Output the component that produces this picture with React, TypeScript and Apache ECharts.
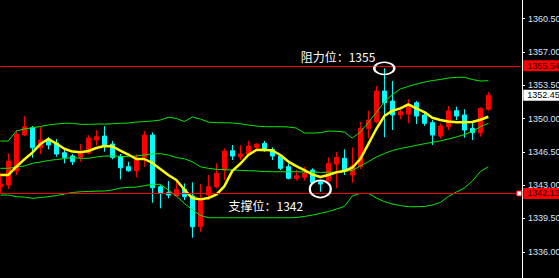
import React, { useEffect, useRef } from 'react';
import * as echarts from 'echarts';

// ---- candle data (open / close / low / high) ----
const opens = [
  1342.80, 1343.01, 1344.49, 1348.27, 1349.03, 1346.93, 1347.85, 1347.43, 1346.41, 1346.06,
  1345.92, 1346.38, 1347.74, 1348.16, 1347.32, 1345.99, 1344.94, 1344.52, 1345.92, 1348.27,
  1342.84, 1342.21, 1341.86, 1342.59, 1341.86, 1338.63, 1341.96, 1342.84, 1344.59, 1346.62,
  1345.99, 1346.27, 1346.97, 1347.39, 1346.76, 1346.06, 1344.94, 1343.72, 1343.82, 1344.59,
  1343.36, 1343.47, 1345.22, 1345.82, 1344.07, 1344.94, 1348.97, 1349.66, 1352.89, 1351.84,
  1350.37, 1350.47, 1351.66, 1350.37, 1349.56, 1348.16, 1349.14, 1350.82, 1350.37, 1348.97,
  1348.51, 1350.97,
];
const closes = [
  1343.12, 1345.54, 1348.37, 1349.14, 1346.93, 1347.74, 1347.22, 1346.27, 1345.92, 1345.46,
  1346.41, 1347.95, 1348.09, 1347.22, 1345.92, 1344.83, 1344.52, 1345.82, 1348.27, 1342.73,
  1342.21, 1341.96, 1342.56, 1341.79, 1338.63, 1341.62, 1342.84, 1344.24, 1346.59, 1346.06,
  1346.27, 1347.11, 1347.32, 1346.62, 1346.06, 1344.77, 1343.72, 1343.99, 1344.24, 1343.26,
  1343.12, 1345.29, 1345.92, 1344.59, 1345.01, 1348.97, 1349.84, 1352.89, 1351.66, 1350.37,
  1350.71, 1351.42, 1350.26, 1349.50, 1348.27, 1349.21, 1350.82, 1350.26, 1348.79, 1348.51,
  1351.07, 1352.45,
];
const lows = [
  1342.17, 1342.59, 1344.07, 1348.16, 1345.88, 1346.27, 1346.76, 1345.99, 1345.29, 1345.12,
  1345.46, 1346.24, 1347.18, 1346.51, 1345.71, 1343.61, 1344.41, 1343.82, 1344.94, 1341.16,
  1340.57, 1341.62, 1341.79, 1341.44, 1337.48, 1338.11, 1341.44, 1342.67, 1343.54, 1345.64,
  1345.64, 1346.17, 1346.69, 1346.51, 1345.64, 1344.59, 1343.61, 1343.47, 1343.47, 1343.12,
  1342.31, 1343.36, 1342.67, 1344.07, 1343.26, 1344.70, 1347.92, 1349.50, 1348.03, 1348.79,
  1349.92, 1349.50, 1349.42, 1349.24, 1347.22, 1347.92, 1348.79, 1349.84, 1347.98, 1347.74,
  1348.09, 1350.82,
];
const highs = [
  1344.28, 1346.34, 1348.79, 1350.26, 1349.21, 1349.14, 1348.06, 1347.85, 1346.90, 1346.27,
  1347.32, 1348.27, 1348.79, 1349.21, 1347.64, 1346.27, 1345.46, 1346.24, 1348.69, 1348.55,
  1343.01, 1343.43, 1343.47, 1343.19, 1343.30, 1343.12, 1344.07, 1345.29, 1346.87, 1347.22,
  1347.22, 1347.64, 1347.39, 1347.64, 1346.97, 1346.24, 1345.29, 1344.59, 1344.94, 1344.77,
  1343.47, 1345.92, 1346.51, 1346.76, 1346.97, 1349.63, 1350.82, 1353.41, 1355.27, 1353.94,
  1351.24, 1352.02, 1351.84, 1350.71, 1349.84, 1349.50, 1351.31, 1351.24, 1350.97, 1349.66,
  1351.18, 1352.78,
];

// ---- indicator lines ----
const maYellow = [
  1344.07, 1344.07, 1344.94, 1345.71, 1346.41, 1347.32, 1347.85, 1347.37, 1346.83, 1346.53,
  1346.45, 1346.59, 1346.90, 1347.11, 1347.08, 1346.64, 1346.22, 1345.75, 1345.75, 1345.33,
  1344.70, 1344.07, 1343.54, 1342.54, 1341.65, 1341.51, 1341.65, 1342.00, 1342.88, 1344.50,
  1345.25, 1346.17, 1346.69, 1346.72, 1346.64, 1346.17, 1345.48, 1345.01, 1344.59, 1344.14,
  1343.86, 1344.07, 1344.35, 1344.49, 1344.85, 1345.75, 1347.32, 1348.90, 1350.26, 1350.82,
  1351.07, 1351.49, 1351.07, 1350.68, 1350.08, 1349.84, 1349.68, 1349.60, 1349.60, 1349.63,
  1349.87, 1350.19,
];
const bandUpper = [
  1347.64, 1347.64, 1348.69, 1348.90, 1349.03, 1349.16, 1349.32, 1349.42, 1349.50, 1349.50,
  1349.39, 1349.39, 1349.42, 1349.42, 1349.45, 1349.50, 1349.53, 1349.63, 1349.68, 1349.74,
  1349.84, 1350.13, 1350.02, 1349.68, 1350.16, 1349.95, 1349.63, 1349.56, 1349.56, 1349.53,
  1349.45, 1349.32, 1349.21, 1349.14, 1349.14, 1349.14, 1349.11, 1349.00, 1348.48, 1348.48,
  1348.51, 1348.69, 1348.66, 1348.58, 1347.95, 1348.58, 1349.58, 1350.62, 1351.75, 1352.52,
  1353.10, 1353.38, 1353.62, 1353.83, 1353.99, 1354.10, 1354.25, 1354.33, 1354.33, 1354.10,
  1353.94, 1353.97,
];
const bandMiddle = [
  1344.77, 1344.77, 1344.91, 1345.01, 1345.29, 1345.43, 1345.59, 1345.69, 1345.80, 1345.90,
  1345.82, 1345.82, 1345.96, 1346.06, 1346.06, 1346.03, 1345.99, 1346.06, 1346.17, 1346.30,
  1346.30, 1346.17, 1345.90, 1345.78, 1345.46, 1344.94, 1344.77, 1344.66, 1344.62, 1344.59,
  1344.56, 1344.52, 1344.49, 1344.43, 1344.41, 1344.41, 1344.41, 1344.41, 1344.38, 1344.36,
  1344.35, 1344.35, 1344.38, 1344.45, 1344.56, 1345.01, 1345.46, 1345.96, 1346.32, 1346.64,
  1346.85, 1347.01, 1347.18, 1347.35, 1347.50, 1347.64, 1347.85, 1348.06, 1348.32, 1348.63,
  1349.14, 1349.50,
];
const bandLower = [
  1341.96, 1341.96, 1341.79, 1341.75, 1341.62, 1341.70, 1341.79, 1341.91, 1342.07, 1342.23,
  1342.31, 1342.33, 1342.38, 1342.38, 1342.49, 1342.70, 1342.77, 1342.80, 1342.94, 1343.09,
  1343.09, 1342.49, 1341.86, 1341.09, 1340.42, 1339.83, 1339.58, 1339.58, 1339.58, 1339.58,
  1339.58, 1339.58, 1339.58, 1339.58, 1339.58, 1339.58, 1339.58, 1339.60, 1339.71, 1339.86,
  1340.04, 1340.23, 1340.49, 1340.76, 1341.86, 1342.14, 1342.14, 1341.65, 1341.28, 1341.02,
  1340.86, 1340.74, 1340.74, 1340.76, 1340.91, 1341.18, 1341.81, 1342.28, 1342.70, 1343.43,
  1344.43, 1344.94,
];

// ---- axis / levels ----
const yTicks = [1336, 1339.5, 1343, 1346.5, 1350, 1353.5, 1357, 1360.5];
const Y_MIN = 1333.25;
const Y_MAX = 1362.45;
const SLOT_COUNT = 66;
const resistanceLevel = 1355.54;
const supportLevel = 1342.13;
const lastPrice = 1352.45;
const resistanceMark = { index: 48, value: 1355.27 };
const supportMark = { index: 40, value: 1342.6 };
const resistanceText = '阻力位：1355';
const supportText = '支撑位：1342';

export default function App() {
  const ref = useRef<HTMLDivElement>(null);

  useEffect(() => {
    document.body.style.margin = '0';
    const chart = echarts.init(ref.current!, null, { renderer: 'svg' });
    const cats = Array.from({ length: SLOT_COUNT }, (_, i) => String(i));
    const ohlc = opens.map((o, i) => [o, closes[i], lows[i], highs[i]]);
    const lastIdx = SLOT_COUNT - 1;
    const labelFont = { fontSize: 9, fontFamily: 'Liberation Sans, Arial, sans-serif' };

    const priceLine = (value: number, lineColor: string, textColor: string, bg: string) => [
      {
        coord: [0, value],
        lineStyle: { color: lineColor, width: 1, type: 'solid' },
        label: {
          show: true,
          position: 'end',
          distance: 3,
          formatter: value.toFixed(2),
          color: textColor,
          backgroundColor: bg,
          padding: [1, 8, 0, 4],
          lineHeight: 10,
          ...labelFont,
        },
      },
      { coord: [lastIdx, value] },
    ];

    chart.setOption({
      animation: false,
      backgroundColor: '#000000',
      grid: { left: -3.7, right: 34.7, top: 0, bottom: 0, containLabel: false, outerBoundsMode: 'none' },
      xAxis: { type: 'category', data: cats, show: false, boundaryGap: true },
      yAxis: {
        type: 'value',
        position: 'right',
        offset: -2.3,
        min: Y_MIN,
        max: Y_MAX,
        splitLine: { show: false },
        axisLine: { show: true, lineStyle: { color: '#ffffff', width: 1 } },
        axisTick: { show: true, length: 3, lineStyle: { color: '#ffffff' }, customValues: yTicks },
        axisLabel: {
          customValues: yTicks,
          formatter: (v: number) => v.toFixed(2),
          color: '#d8e4f8',
          margin: 6,
          ...labelFont,
        },
      },
      series: [
        {
          type: 'candlestick',
          data: ohlc,
          barWidth: 4,
          z: 2,
          itemStyle: {
            color: '#ff0000',
            color0: '#00ffff',
            borderColor: '#ff0000',
            borderColor0: '#00ffff',
            borderWidth: 1,
          },
        },
        {
          type: 'line',
          data: bandUpper,
          symbol: 'none',
          z: 3,
          lineStyle: { color: '#00ee00', width: 1 },
        },
        {
          type: 'line',
          data: bandMiddle,
          symbol: 'none',
          z: 3,
          lineStyle: { color: '#00ee00', width: 1 },
        },
        {
          type: 'line',
          data: bandLower,
          symbol: 'none',
          z: 3,
          lineStyle: { color: '#00ee00', width: 1 },
        },
        {
          type: 'line',
          data: maYellow,
          symbol: 'none',
          z: 4,
          clip: false,
          lineStyle: { color: '#ffff00', width: 2.5 },
          markLine: {
            silent: true,
            symbol: ['none', 'none'],
            z: 10,
            data: [
              priceLine(resistanceLevel, '#ff0000', '#2a0000', '#ff0000'),
              priceLine(supportLevel, '#ff0000', '#2a0000', '#ff0000'),
              priceLine(lastPrice, 'rgba(0,0,0,0)', '#000000', '#ffffff'),
            ],
          },
          markPoint: {
            silent: true,
            label: { show: false },
            z: 10,
            data: [
              {
                coord: [resistanceMark.index, resistanceMark.value],
                symbol: 'circle',
                symbolSize: [20, 12],
                itemStyle: { color: 'rgba(0,0,0,0)', borderColor: '#ffffff', borderWidth: 2 },
              },
              {
                coord: [supportMark.index, supportMark.value],
                symbol: 'circle',
                symbolSize: [21, 17],
                itemStyle: { color: 'rgba(0,0,0,0)', borderColor: '#ffffff', borderWidth: 2 },
              },
              {
                coord: [lastIdx, supportLevel],
                symbol: 'rect',
                symbolSize: 5,
                symbolOffset: [-1, 0],
                itemStyle: { color: '#ffffff', borderColor: '#ff0000', borderWidth: 1 },
              },
            ],
          },
        },
      ],
      graphic: [
        {
          type: 'text',
          x: 300.7,
          y: 56.8,
          z: 20,
          style: {
            text: resistanceText,
            fill: '#ffffff',
            font: '12px "Noto Sans CJK SC"',
            align: 'left',
            verticalAlign: 'middle',
          },
        },
        {
          type: 'text',
          x: 228.5,
          y: 205.5,
          z: 20,
          style: {
            text: supportText,
            fill: '#ffffff',
            font: '12px "Noto Sans CJK SC"',
            align: 'left',
            verticalAlign: 'middle',
          },
        },
      ],
    });

    return () => chart.dispose();
  }, []);

  return (
    <div
      ref={ref}
      style={{ position: 'absolute', left: 0, top: 0, width: 559, height: 278, background: '#000' }}
    />
  );
}
